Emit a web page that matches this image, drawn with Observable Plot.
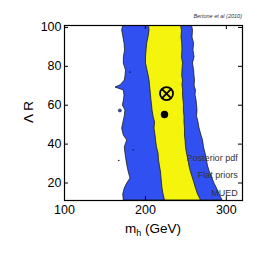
<!DOCTYPE html>
<html><head><meta charset="utf-8">
<script src="https://cdn.jsdelivr.net/npm/d3@7"></script>
<script src="https://cdn.jsdelivr.net/npm/@observablehq/plot@0.6"></script>
<style>
body{margin:0;background:#fff;}
svg{font-family:"Liberation Sans",Arial,Helvetica,sans-serif;}
</style>
</head><body><div id="chart"></div>
<script>
// Lambda R levels (y) and contour boundaries in m_h (GeV)
const lambdaR     = [101, 98.4, 94.8, 91.8, 88.2, 84.6, 81.5, 77.9, 74.8, 72.7, 70.2, 69.1, 67.6, 65.0, 62.4, 59.9, 57.3, 54.2, 51.1, 48.0, 44.4, 41.9, 38.3, 35.2, 31.6, 28.5, 25.4, 22.3, 19.7, 17.2, 14.1, 11];
const blueLeft    = [172.6, 171.3, 172.9, 174.2, 174.8, 173.5, 173.3, 176.0, 175.4, 174.5, 169.2, 163.0, 173.3, 174.2, 173.5, 172.1, 175.4, 174.5, 172.9, 171.3, 173.3, 177.5, 174.5, 175.4, 176.6, 177.9, 179.5, 181.6, 177.5, 174.5, 172.6, 173.3];
const yellowLeft  = [204.4, 205.1, 203.8, 202.2, 201.4, 200.7, 200.7, 202.6, 204.2, 205.1, 205.7, 205.9, 206.3, 206.9, 207.5, 208.2, 208.8, 210.0, 211.9, 211.2, 212.5, 213.1, 214.3, 216.2, 216.8, 218.0, 219.3, 219.9, 220.5, 221.1, 222.4, 224.2];
const yellowRight = [244.0, 245.2, 244.6, 245.5, 245.8, 245.2, 246.5, 245.8, 245.5, 246.5, 245.8, 246.2, 246.7, 246.5, 247.1, 247.7, 247.5, 248.3, 248.3, 248.9, 248.9, 249.6, 250.2, 251.4, 253.3, 254.5, 256.4, 258.8, 260.7, 262.5, 265.0, 268.7];
const blueRight   = [257.6, 258.8, 258.2, 260.1, 259.4, 260.7, 258.8, 260.1, 260.7, 261.3, 260.7, 261.3, 262.5, 261.9, 263.2, 263.8, 264.4, 263.8, 265.6, 266.9, 269.3, 271.2, 272.4, 274.3, 276.1, 277.4, 279.8, 282.9, 285.4, 288.5, 291.6, 295.3];

// small isolated islands / specks
const islandX = [168.4];
const islandY = [57.3];
const speckX  = [167.1, 180.7, 184.9];
const speckY  = [31.6, 77.0, 37.1];

// markers
const bestFitX = [226.1], bestFitY = [66.0];
const meanX = [223.6], meanY = [55.2];

// ticks & texts
const xTicks = [100, 200, 300];
const yTicks = [20, 40, 60, 80, 100];
const legendLines = ["Posterior pdf", "Flat priors", "MUED"];
const legendY = [32.6, 23.9, 14.6];
const legendX = 314;
const credit = "Bertone et al (2010)";

const rows = lambdaR.map((v, i) => ({v, bl: blueLeft[i], yl: yellowLeft[i], yr: yellowRight[i], br: blueRight[i]}));
const islands = islandX.map((x, i) => ({x, y: islandY[i]}));
const specks = speckX.map((x, i) => ({x, y: speckY[i]}));
const best = bestFitX.map((x, i) => ({x, y: bestFitY[i]}));
const mean = meanX.map((x, i) => ({x, y: meanY[i]}));
const legend = legendLines.map((t, i) => ({t, x: legendX, y: legendY[i]}));

const W = 266, H = 266, ML = 64, MR = 24, MT = 25, MB = 66;
const TL = 4; // inward tick length
const innerW = W - ML - MR, innerH = H - MT - MB;

const plot = Plot.plot({
  width: W, height: H,
  marginLeft: ML, marginRight: MR, marginTop: MT, marginBottom: MB,
  x: {domain: [100, 320]},
  y: {domain: [11, 101]},
  style: {fontFamily: '"Liberation Sans", Arial, sans-serif', fontSize: "12.5px", color: "black", background: "white"},
  marks: [
    Plot.areaX(rows, {y: "v", x1: "bl", x2: "br", fill: "#3050f2", stroke: "#1a1a1a", strokeWidth: 0.8, clip: true}),
    Plot.areaX(rows, {y: "v", x1: "yl", x2: "yr", fill: "#f4f40c", stroke: "#1a1a1a", strokeWidth: 0.8, clip: true}),
    Plot.dot(islands, {x: "x", y: "y", r: 1.5, fill: "#3050f2", stroke: "#1a1a1a", strokeWidth: 0.6}),
    Plot.dot(specks, {x: "x", y: "y", r: 0.8, fill: "#1a1a1a"}),
    Plot.dot(best, {x: "x", y: "y", r: 6.5, fill: "none", stroke: "black", strokeWidth: 1.8}),
    Plot.dot(best, {x: "x", y: "y", symbol: "times", r: 4.6, stroke: "black", strokeWidth: 1.8}),
    Plot.dot(mean, {x: "x", y: "y", r: 3.7, fill: "black"}),
    Plot.text(legend, {x: "x", y: "y", text: "t", textAnchor: "end", fontSize: 9, fill: "#333"}),
    // inward ticks on all four sides
    Plot.tickX(xTicks, {x: d => d, insetTop: innerH - TL, stroke: "black", strokeWidth: 1}),
    Plot.tickX(xTicks, {x: d => d, insetBottom: innerH - TL, stroke: "black", strokeWidth: 1}),
    Plot.tickY(yTicks, {y: d => d, insetRight: innerW - TL, stroke: "black", strokeWidth: 1}),
    Plot.tickY(yTicks, {y: d => d, insetLeft: innerW - TL, stroke: "black", strokeWidth: 1}),
    Plot.axisX({ticks: xTicks, tickSize: 0, tickPadding: 5, label: null}),
    Plot.axisY({ticks: yTicks, tickSize: 0, tickPadding: 3, label: null}),
    Plot.frame({stroke: "black", strokeWidth: 1.2})
  ]
});

const svg = d3.select(plot);
const xl = svg.append("text").attr("x", 153).attr("y", 232.5).attr("text-anchor", "middle")
  .attr("font-size", 13.5).attr("fill", "black");
xl.append("tspan").text("m");
xl.append("tspan").attr("font-size", 9).attr("dy", 3.5).text("h");
xl.append("tspan").attr("dy", -3.5).text(" (GeV)");

svg.append("text").attr("transform", "translate(33,112) rotate(-90)").attr("text-anchor", "middle")
  .attr("font-size", 13.5).attr("fill", "black").text("Λ R");

svg.append("text").attr("x", 242).attr("y", 17.5).attr("text-anchor", "end")
  .attr("font-size", 5.5).attr("font-style", "italic").attr("fill", "#333").text(credit);

document.getElementById("chart").appendChild(plot);
</script>
</body></html>
